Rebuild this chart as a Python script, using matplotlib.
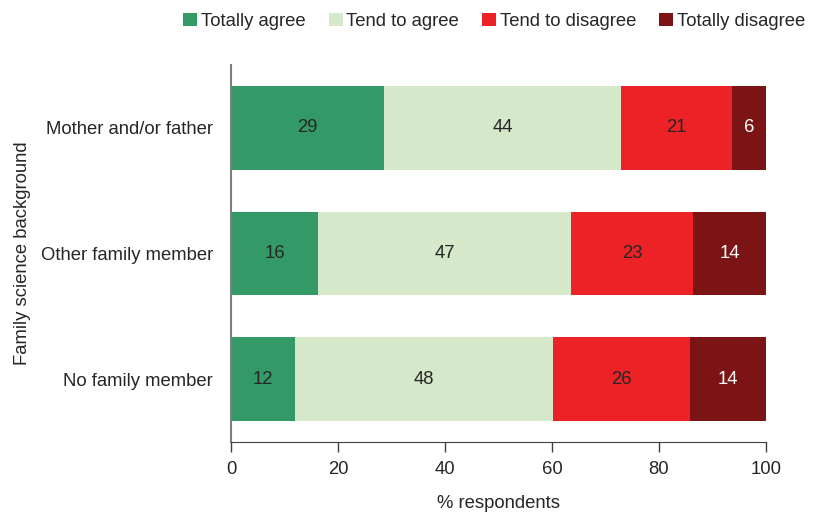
import numpy as np
import matplotlib.pyplot as plt

plt.rcParams['font.family'] = ['Liberation Sans', 'DejaVu Sans']

# Datos (porcentajes; las etiquetas muestran el valor redondeado)
categorias = ["Mother and/or father", "Other family member", "No family member"]
series = ["Totally agree", "Tend to agree", "Tend to disagree", "Totally disagree"]
totally_agree = [28.6, 16.3, 12.0]
tend_agree = [44.3, 47.3, 48.2]
tend_disagree = [20.7, 22.8, 25.6]
totally_disagree = [6.4, 13.6, 14.2]

valores = [totally_agree, tend_agree, tend_disagree, totally_disagree]
colores = ["#339966", "#d5e8c9", "#ec2227", "#7c1416"]
color_etiqueta = ["#262626", "#262626", "#262626", "white"]
texto = "#262626"
fs = 13.3

fig = plt.figure(figsize=(8.15, 5.12), dpi=100)
ax = fig.add_axes([0.2834, 0.1367, 0.6565, 0.7363])

y = np.arange(len(categorias))
izquierda = np.zeros(len(categorias))
for nombre, vals, color, c_txt in zip(series, valores, colores, color_etiqueta):
    vals = np.array(vals, dtype=float)
    ax.barh(y, vals, left=izquierda, height=0.667, color=color, label=nombre)
    for yi, l, v in zip(y, izquierda, vals):
        ax.text(l + v / 2, yi, f"{v:.0f}", ha="center", va="center",
                fontsize=fs, color=c_txt)
    izquierda += vals

ax.set_xlim(0, 100)
ax.set_ylim(2.5, -0.5)
ax.set_yticks(y)
ax.set_yticklabels(categorias, fontsize=fs, color=texto)
ax.set_xticks(np.arange(0, 101, 20))
ax.tick_params(axis="x", labelsize=fs, labelcolor=texto, color="#404040",
               length=7, width=1, pad=7)
ax.tick_params(axis="y", length=0, pad=13)

for lado in ["top", "right"]:
    ax.spines[lado].set_visible(False)
ax.spines["left"].set_color("#808080")
ax.spines["left"].set_linewidth(1.5)
ax.spines["bottom"].set_color("#404040")

ax.set_xlabel("% respondents", fontsize=fs, color=texto, labelpad=12)
ax.set_ylabel("Family science background", fontsize=fs, color=texto, labelpad=7)

fig.legend(loc="upper right", bbox_to_anchor=(1.008, 1.008), ncol=4, frameon=False,
           fontsize=fs, handlelength=0.75, handleheight=0.75, handletextpad=0.2,
           columnspacing=1.25, labelcolor=texto)

fig.savefig("out.png", dpi=100)
